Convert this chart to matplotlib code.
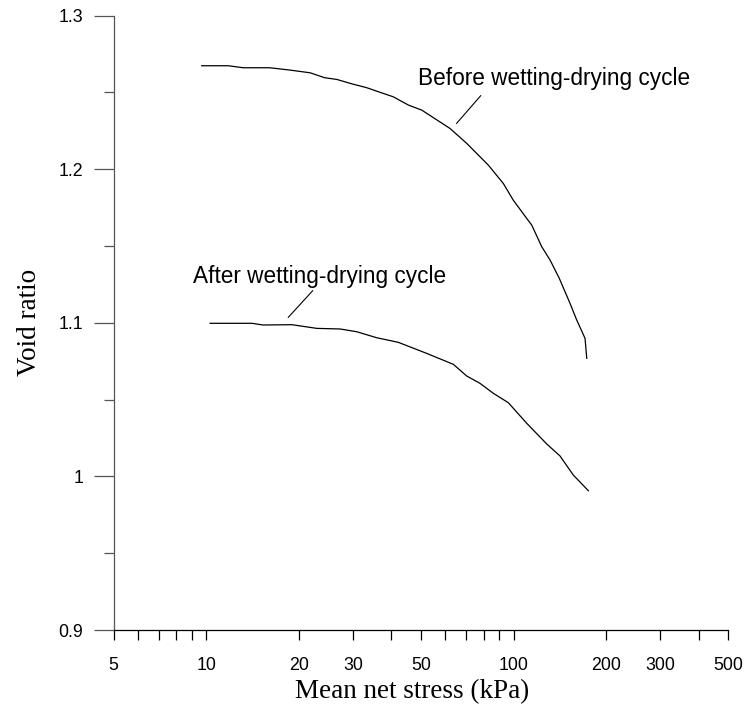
import matplotlib
matplotlib.use("Agg")
import matplotlib.pyplot as plt
from matplotlib.ticker import FixedLocator, FixedFormatter, NullFormatter

# Data (mean net stress in kPa, void ratio)
before_p = [9.67, 11.8, 13.2, 16.1, 18.7, 21.8, 24.3, 26.6, 29.7, 33.3, 36.8, 40.6,
            45.5, 50.3, 62.1, 70.4, 82.8, 92.6, 99.8, 110.4, 114.6, 123.6, 131.5,
            140.9, 152.7, 160.6, 170.9, 173.1]
before_e = [1.2674, 1.2674, 1.2661, 1.2661, 1.2646, 1.2628, 1.2596, 1.2585, 1.2557,
            1.2531, 1.2501, 1.2472, 1.2418, 1.2385, 1.2266, 1.2169, 1.2027, 1.1908,
            1.1799, 1.1680, 1.1637, 1.1495, 1.1409, 1.1290, 1.1127, 1.1018, 1.0899,
            1.0769]
after_p = [10.3, 14.1, 15.3, 19.0, 22.9, 27.3, 30.9, 35.9, 42.2, 52.2, 63.7, 70.4,
           77.8, 86.0, 96.2, 110.4, 128.3, 141.7, 156.5, 175.2]
after_e = [1.0997, 1.0997, 1.0986, 1.0988, 1.0964, 1.0960, 1.0942, 1.0903, 1.0873,
           1.0801, 1.0730, 1.0654, 1.0606, 1.0541, 1.0480, 1.0346, 1.0211, 1.0133,
           1.0009, 0.9907]

x_major = [5, 10, 20, 30, 50, 100, 200, 300, 500]
x_major_labels = ["5", "10", "20", "30", "50", "100", "200", "300", "500"]
x_minor = [6, 7, 8, 9, 40, 60, 70, 80, 90, 400]
y_major = [0.9, 1.0, 1.1, 1.2, 1.3]
y_major_labels = ["0.9", "1", "1.1", "1.2", "1.3"]
y_minor = [0.95, 1.05, 1.15, 1.25]

label_before = "Before wetting-drying cycle"
label_after = "After wetting-drying cycle"
xlabel = "Mean net stress (kPa)"
ylabel = "Void ratio"

sans = ["Liberation Sans", "DejaVu Sans"]
serif = ["Liberation Serif", "DejaVu Serif"]

fig = plt.figure(figsize=(7.46, 7.13), dpi=100)
ax = fig.add_axes([0.1524, 0.1164, 0.8239, 0.8616])

ax.plot(before_p, before_e, color="black", lw=0.9)
ax.plot(after_p, after_e, color="black", lw=0.9)

ax.set_xscale("log")
ax.set_xlim(5, 500)
ax.set_ylim(0.9, 1.3)

ax.xaxis.set_major_locator(FixedLocator(x_major))
ax.xaxis.set_major_formatter(FixedFormatter(x_major_labels))
ax.xaxis.set_minor_locator(FixedLocator(x_minor))
ax.xaxis.set_minor_formatter(NullFormatter())
ax.yaxis.set_major_locator(FixedLocator(y_major))
ax.yaxis.set_major_formatter(FixedFormatter(y_major_labels))
ax.yaxis.set_minor_locator(FixedLocator(y_minor))

for s in ["top", "right"]:
    ax.spines[s].set_visible(False)
ax.spines["left"].set_color("#555555")
ax.spines["left"].set_linewidth(0.9)
ax.spines["bottom"].set_color("black")
ax.spines["bottom"].set_linewidth(0.9)

ax.tick_params(axis="x", which="both", direction="out", length=7.2, width=0.9,
               color="black", pad=12)
ax.tick_params(axis="y", which="major", direction="out", length=14.4, width=0.9,
               color="#555555", pad=7.5)
ax.tick_params(axis="y", which="minor", direction="out", length=7.2, width=0.9,
               color="#555555")
for lab in ax.get_xticklabels() + ax.get_yticklabels():
    lab.set_fontfamily(sans)
    lab.set_fontsize(12.8)
    lab.set_color("black")

# annotations
ax.text(49.0, 1.2548, label_before, fontsize=16.3, family=sans, ha="left", va="baseline")
ax.text(9.08, 1.1257, label_after, fontsize=16.3, family=sans, ha="left", va="baseline")
ax.plot([78.2, 65.3], [1.2479, 1.2299], color="black", lw=0.8)
ax.plot([22.2, 18.5], [1.1209, 1.1036], color="black", lw=0.8)

fig.text(412 / 746, 1 - 692 / 713, xlabel, fontsize=19.5, family=serif,
         ha="center", va="center")
fig.text(30 / 746, 1 - 322 / 713, ylabel, fontsize=19.5, family=serif,
         ha="center", va="center", rotation=90)

fig.savefig("out.png", dpi=100)
